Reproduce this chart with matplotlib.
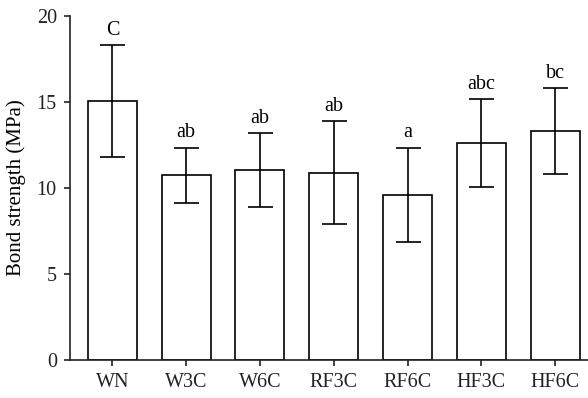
import numpy as np
import matplotlib
matplotlib.use("Agg")
import matplotlib.pyplot as plt

plt.rcParams['font.family'] = ['Liberation Serif', 'DejaVu Serif']

# data
groups = ["WN", "W3C", "W6C", "RF3C", "RF6C", "HF3C", "HF6C"]
means = [15.08, 10.75, 11.05, 10.9, 9.6, 12.62, 13.3]
errs = [3.25, 1.6, 2.15, 3.0, 2.75, 2.55, 2.5]
letters = ["C", "ab", "ab", "ab", "a", "abc", "bc"]

fig = plt.figure(figsize=(5.88, 3.98), dpi=100)
ax = fig.add_axes([0.119, 0.0955, 0.881, 0.864])

x = np.arange(len(groups))
ax.bar(x, means, width=0.664, color="white", edgecolor="black", linewidth=1.2, zorder=2)
ax.errorbar(x, means, yerr=errs, fmt="none", ecolor="black", elinewidth=1.2,
            capsize=9, capthick=1.2, zorder=3)

for xi, m, e, lab in zip(x, means, errs, letters):
    ax.text(xi, m + e + 0.3, lab, ha="center", va="bottom", fontsize=14.5)

ax.set_xlim(-0.576, 6.447)
ax.set_ylim(0, 20)
ax.set_yticks([0, 5, 10, 15, 20])
ax.set_xticks(x)
ax.set_xticklabels(groups)
ax.set_ylabel("Bond strength (MPa)", fontsize=15, labelpad=8)

ax.spines["top"].set_visible(False)
ax.spines["right"].set_visible(False)
for s in ["left", "bottom"]:
    ax.spines[s].set_linewidth(1.2)
    ax.spines[s].set_color("#222222")
ax.tick_params(direction="out", length=4.5, width=1.2, labelsize=14.5, colors="#222222")
ax.tick_params(axis="y", pad=5)
ax.tick_params(axis="x", pad=5)

fig.savefig("out.png", dpi=100)
